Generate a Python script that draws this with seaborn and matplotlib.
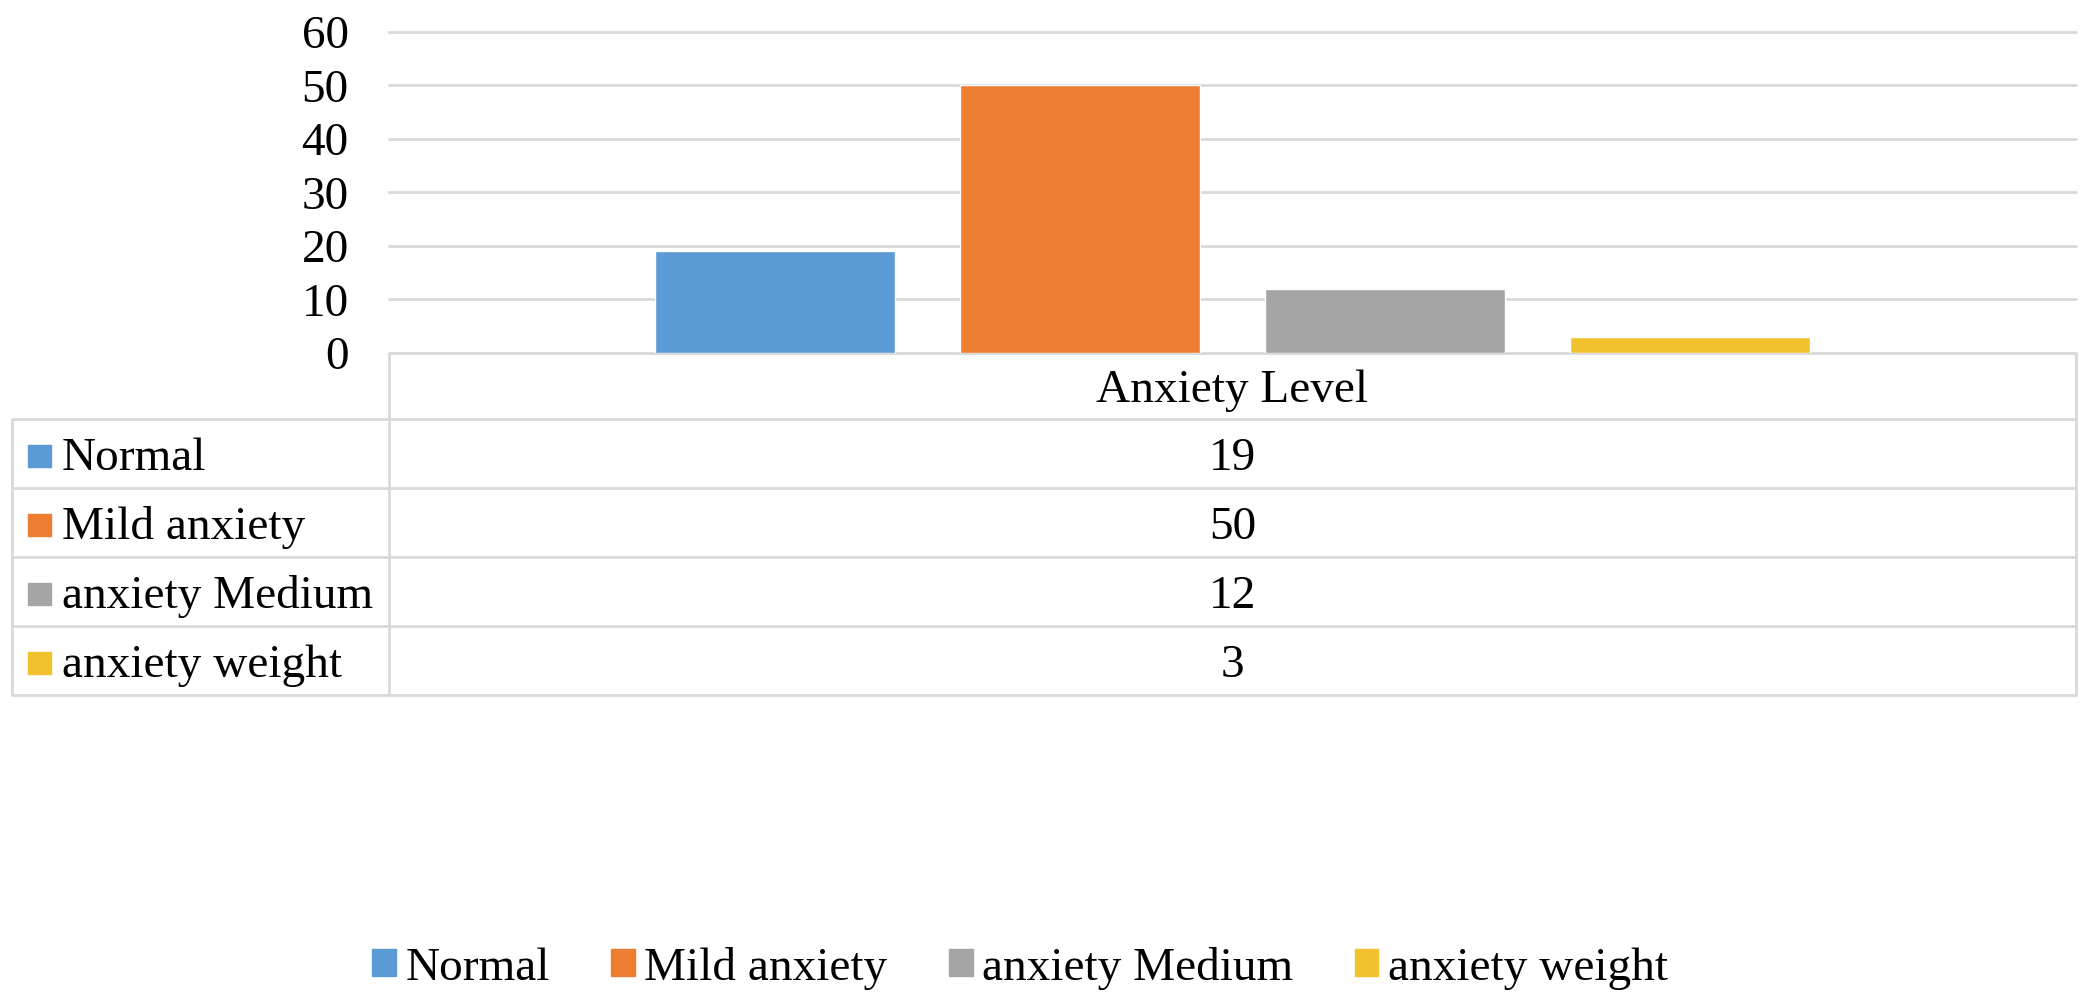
import matplotlib.pyplot as plt
import seaborn as sns
import pandas as pd
from matplotlib.patches import Patch, Rectangle

# data
levels = ['Normal', 'Mild anxiety', 'anxiety Medium', 'anxiety weight']
counts = [19, 50, 12, 3]
colors = ['#5B9BD5', '#ED7D31', '#A5A5A5', '#F2C12E']
group_name = 'Anxiety Level'
y_ticks = [0, 10, 20, 30, 40, 50, 60]

df = pd.DataFrame({'group': [group_name] * len(levels), 'level': levels, 'count': counts})

sns.set_style('white')
plt.rcParams['font.family'] = ['Liberation Serif', 'DejaVu Serif']
plt.rcParams['text.color'] = 'black'
plt.rcParams['ytick.color'] = 'black'
FS = 34
W, H = 2091, 1001
grid_c = '#d9d9d9'

fig = plt.figure(figsize=(W / 100, H / 100), dpi=100)

# plot area in pixels
px_l, px_r, px_top, px_zero = 389, 2076, 32, 353
ax = fig.add_axes([px_l / W, 1 - px_zero / H, (px_r - px_l) / W, (px_zero - px_top) / H])
sns.barplot(data=df, x='group', y='count', hue='level', hue_order=levels,
            palette=colors, width=0.723, gap=0.213, saturation=1, ax=ax, legend=False)
ax.set_ylim(0, 60)
ax.set_xlim(-0.5, 0.5)
ax.set_yticks(y_ticks)
ax.set_yticklabels([str(t) for t in y_ticks], fontsize=FS, color='black')
ax.tick_params(axis='y', length=0, pad=29)
ax.set_xticks([])
ax.set_xlabel('')
ax.set_ylabel('')
ax.set_axisbelow(True)
ax.yaxis.grid(True, color=grid_c, linewidth=2)
for gl in ax.get_ygridlines():
    gl.set_clip_on(False)
for s in ax.spines.values():
    s.set_visible(False)

# data table under the chart (pixel coordinates overlay)
tab = fig.add_axes([0, 0, 1, 1], zorder=-1)
tab.set_xlim(0, W)
tab.set_ylim(H, 0)
tab.axis('off')
tab_l = 12
row_lines = [419, 488, 557, 626, 695]
for y in row_lines:
    tab.plot([tab_l, px_r], [y, y], color=grid_c, lw=2, solid_capstyle='butt')
tab.plot([tab_l, tab_l], [row_lines[0], row_lines[-1]], color=grid_c, lw=2)
tab.plot([px_l, px_l], [px_zero, row_lines[-1]], color=grid_c, lw=2)
tab.plot([px_r, px_r], [px_zero, row_lines[-1]], color=grid_c, lw=2)

mid_x = (px_l + px_r) / 2
dy = 5  # text sits a little low in its cells
tab.text(mid_x, (px_zero + row_lines[0]) / 2 + dy, group_name, fontsize=FS, ha='center', va='center')
for i, (lab, val, c) in enumerate(zip(levels, counts, colors)):
    yc = (row_lines[i] + row_lines[i + 1]) / 2
    tab.add_patch(Rectangle((28, yc - 9), 23, 22, color=c))
    tab.text(62, yc + dy, lab, fontsize=FS, ha='left', va='center')
    tab.text(mid_x, yc + dy, str(val), fontsize=FS, ha='center', va='center')

# legend at the bottom
handles = [Patch(color=c, label=l) for l, c in zip(levels, colors)]
fig.legend(handles=handles, loc='center', bbox_to_anchor=(1020 / W, 1 - 968 / H), ncol=4,
           frameon=False, fontsize=FS, handlelength=0.5, handleheight=0.5,
           handletextpad=0.2, columnspacing=1.3)

fig.savefig('out.png', dpi=100, facecolor='white')
